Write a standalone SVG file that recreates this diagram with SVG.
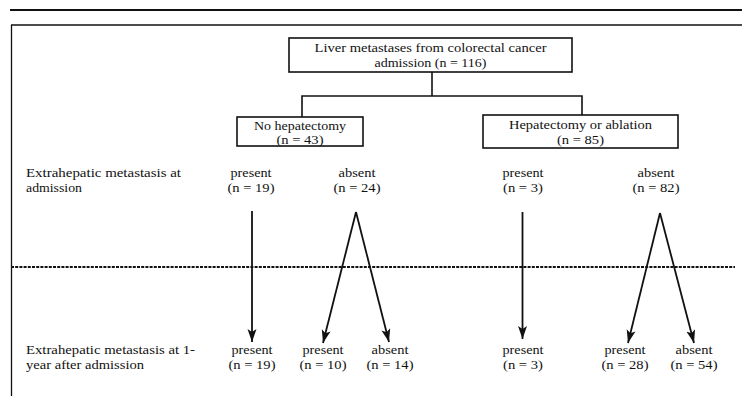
<svg xmlns="http://www.w3.org/2000/svg" width="742" height="398" viewBox="0 0 742 398">
<defs>
<style>
text{font-family:"Liberation Serif","Times New Roman",serif;font-size:13px;fill:#111;}
.c{text-anchor:middle;}
.box{fill:#fff;stroke:#111;stroke-width:1.6;}
.ln{stroke:#111;stroke-width:1.6;fill:none;}
.arr{stroke:#111;stroke-width:1.8;fill:none;marker-end:url(#ah);}
</style>
<marker id="ah" markerUnits="userSpaceOnUse" markerWidth="14" markerHeight="10" refX="13" refY="5" orient="auto">
<path d="M0,0.5 L13,5 L0,9.5 L3,5 z" fill="#111"/>
</marker>
</defs>
<rect width="742" height="398" fill="#fff"/>
<g id="frame">
<line x1="10" y1="10" x2="742" y2="10" stroke="#111" stroke-width="2"/>
<line x1="11" y1="25" x2="742" y2="25" stroke="#111" stroke-width="1.3"/>
<line x1="11.5" y1="25" x2="11.5" y2="396" stroke="#111" stroke-width="1.3"/>
<line x1="11" y1="267" x2="735" y2="267" stroke="#111" stroke-width="2" stroke-dasharray="3,1.2"/>
</g>
<g id="row-labels">
<text x="26" y="177" textLength="155" lengthAdjust="spacingAndGlyphs">Extrahepatic metastasis at</text>
<text x="26" y="192" textLength="56" lengthAdjust="spacingAndGlyphs">admission</text>
<text x="26" y="354" textLength="169" lengthAdjust="spacingAndGlyphs">Extrahepatic metastasis at 1-</text>
<text x="26" y="369" textLength="118" lengthAdjust="spacingAndGlyphs">year after admission</text>
</g>
<g id="connectors">
<polyline class="ln" points="432,72 432,96"/>
<polyline class="ln" points="302,117 302,96 582,96 582,115"/>
<line class="arr" x1="252" y1="211" x2="252" y2="342"/>
<line class="arr" x1="356" y1="212" x2="323" y2="343"/>
<line class="arr" x1="356" y1="212" x2="389" y2="342"/>
<line class="arr" x1="522.5" y1="212" x2="522.5" y2="339"/>
<line class="arr" x1="660" y1="213" x2="628" y2="343"/>
<line class="arr" x1="660" y1="213" x2="694" y2="343" stroke-width="2.8"/>
</g>
<g id="n-root">
<rect class="box" x="289" y="38" width="283" height="34"/>
<text class="c" x="430.5" y="52" textLength="232" lengthAdjust="spacingAndGlyphs">Liver metastases from colorectal cancer</text>
<text class="c" x="430.5" y="67" textLength="112" lengthAdjust="spacingAndGlyphs">admission (n = 116)</text>
</g>
<g id="n-nohep">
<rect class="box" x="237" y="117" width="126" height="29"/>
<text class="c" x="300" y="130" textLength="92" lengthAdjust="spacingAndGlyphs">No hepatectomy</text>
<text class="c" x="300" y="144" textLength="47" lengthAdjust="spacingAndGlyphs">(n = 43)</text>
</g>
<g id="n-hep">
<rect class="box" x="483" y="115" width="195" height="33"/>
<text class="c" x="580.5" y="129" textLength="143" lengthAdjust="spacingAndGlyphs">Hepatectomy or ablation</text>
<text class="c" x="580.5" y="144" textLength="47" lengthAdjust="spacingAndGlyphs">(n = 85)</text>
</g>
<g id="n-a1"><text class="c" x="251" y="177" textLength="41" lengthAdjust="spacingAndGlyphs">present</text><text class="c" x="251" y="192" textLength="47" lengthAdjust="spacingAndGlyphs">(n = 19)</text></g>
<g id="n-a2"><text class="c" x="357" y="177" textLength="37" lengthAdjust="spacingAndGlyphs">absent</text><text class="c" x="357" y="192" textLength="47" lengthAdjust="spacingAndGlyphs">(n = 24)</text></g>
<g id="n-a3"><text class="c" x="523" y="177" textLength="41" lengthAdjust="spacingAndGlyphs">present</text><text class="c" x="523" y="192" textLength="40" lengthAdjust="spacingAndGlyphs">(n = 3)</text></g>
<g id="n-a4"><text class="c" x="656" y="177" textLength="37" lengthAdjust="spacingAndGlyphs">absent</text><text class="c" x="656" y="192" textLength="47" lengthAdjust="spacingAndGlyphs">(n = 82)</text></g>
<g id="n-b1"><text class="c" x="252" y="354" textLength="41" lengthAdjust="spacingAndGlyphs">present</text><text class="c" x="252" y="369" textLength="47" lengthAdjust="spacingAndGlyphs">(n = 19)</text></g>
<g id="n-b2"><text class="c" x="323" y="354" textLength="41" lengthAdjust="spacingAndGlyphs">present</text><text class="c" x="323" y="369" textLength="47" lengthAdjust="spacingAndGlyphs">(n = 10)</text></g>
<g id="n-b3"><text class="c" x="390" y="354" textLength="37" lengthAdjust="spacingAndGlyphs">absent</text><text class="c" x="390" y="369" textLength="47" lengthAdjust="spacingAndGlyphs">(n = 14)</text></g>
<g id="n-b4"><text class="c" x="523" y="354" textLength="41" lengthAdjust="spacingAndGlyphs">present</text><text class="c" x="523" y="369" textLength="40" lengthAdjust="spacingAndGlyphs">(n = 3)</text></g>
<g id="n-b5"><text class="c" x="625" y="354" textLength="41" lengthAdjust="spacingAndGlyphs">present</text><text class="c" x="625" y="369" textLength="47" lengthAdjust="spacingAndGlyphs">(n = 28)</text></g>
<g id="n-b6"><text class="c" x="694" y="354" textLength="37" lengthAdjust="spacingAndGlyphs">absent</text><text class="c" x="694" y="369" textLength="47" lengthAdjust="spacingAndGlyphs">(n = 54)</text></g>
</svg>
